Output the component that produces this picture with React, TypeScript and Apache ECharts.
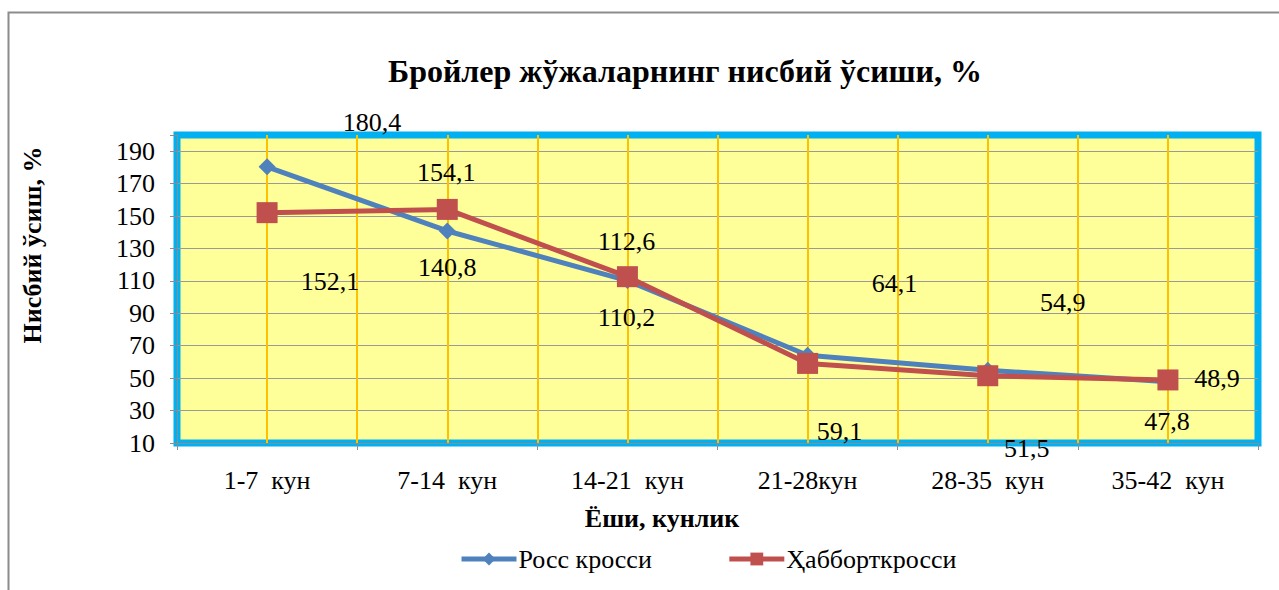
import React, { useEffect, useRef } from "react";
import * as echarts from "echarts";

const titleText = "Бройлер жўжаларнинг нисбий ўсиши, %";
const yAxisTitle = "Нисбий ўсиш, %";
const xAxisTitle = "Ёши, кунлик";
const categories = ["1-7  кун", "7-14  кун", "14-21  кун", "21-28кун", "28-35  кун", "35-42  кун"];
const rossName = "Росс кросси";
const hubbardName = "Ҳабборткросси";
const rossValues = [180.4, 140.8, 110.2, 64.1, 54.9, 47.8];
const hubbardValues = [152.1, 154.1, 112.6, 59.1, 51.5, 48.9];
const yMin = 10;
const yMax = 200;
const yStep = 20;

// label offsets (pixels) reproducing the original label placement
const rossLabelOffsets = [[105, -44], [0, 37], [-1, 37], [87, -72], [75, -68], [-1, 40]];
const hubbardLabelOffsets = [[63, 69], [-1, -37], [-1, -35], [32, 68], [39, 73], [49, -1]];

const FONT = "Liberation Serif";
const fmt = (v: number) => String(v).replace(".", ",");

export default function App() {
  const ref = useRef<HTMLDivElement>(null);
  useEffect(() => {
    if (!ref.current) return;
    const chart = echarts.init(ref.current, null, { renderer: "svg" });
    const labelStyle = { fontFamily: FONT, fontSize: 26, color: "#000" };
    const mk = (vals: number[], offs: number[][]) =>
      vals.map((v, i) => ({
        value: v,
        label: { show: true, position: "inside", offset: offs[i], formatter: () => fmt(v), ...labelStyle },
      }));
    chart.setOption({
      animation: false,
      backgroundColor: "#fff",
      graphic: [
        { type: "rect", z: -10, shape: { x: 8.5, y: 12.5, width: 1400, height: 800 }, style: { fill: "none", stroke: "#8c8c8c", lineWidth: 2 } },
        { type: "text", x: 685, y: 71, style: { text: titleText, fontFamily: FONT, fontWeight: "bold", fontSize: 32, fill: "#000", textAlign: "center", textVerticalAlign: "middle" } },
        { type: "text", x: 32, y: 245, rotation: Math.PI / 2, style: { text: yAxisTitle, fontFamily: FONT, fontWeight: "bold", fontSize: 26, fill: "#000", textAlign: "center", textVerticalAlign: "middle" } },
        { type: "text", x: 662, y: 518, style: { text: xAxisTitle, fontFamily: FONT, fontWeight: "bold", fontSize: 26, fill: "#000", textAlign: "center", textVerticalAlign: "middle" } },
      ],
      grid: {
        left: 177, right: 21, top: 135, bottom: 147,
        show: true, backgroundColor: "#FFFF99", borderColor: "#00B0F0", borderWidth: 7,
      },
      legend: {
        left: 454, top: 541,
        itemWidth: 55, itemHeight: 16, itemGap: 75,
        lineStyle: { width: 5 },
        textStyle: { fontFamily: FONT, fontSize: 26, color: "#000", padding: [0, 0, 0, -3] },
        data: [rossName, hubbardName],
      },
      xAxis: [
        {
          type: "category", data: categories, boundaryGap: true,
          axisLine: { show: true, lineStyle: { color: "#8c8c8c", width: 1 } },
          axisTick: { show: true, length: 7, lineStyle: { color: "#8c8c8c" } },
          axisLabel: { fontFamily: FONT, fontSize: 26, color: "#000", margin: 24, interval: 0 },
          splitLine: { show: false },
        },
        {
          type: "value", min: 0, max: 12, interval: 1, position: "top", z: 1,
          axisLine: { show: false }, axisTick: { show: false }, axisLabel: { show: false },
          splitLine: { show: true, showMinLine: false, showMaxLine: false, lineStyle: { color: "#FFC000", width: 2 } },
        },
      ],
      yAxis: {
        type: "value", min: yMin, max: yMax, interval: yStep,
        axisLine: { show: true, lineStyle: { color: "#8c8c8c", width: 1 } },
        axisTick: { show: true, length: 7, lineStyle: { color: "#8c8c8c" } },
        axisLabel: { fontFamily: FONT, fontSize: 26, color: "#000", margin: 22, formatter: (v: number) => (v === yMax ? "" : String(v)) },
        splitLine: { show: true, showMinLine: false, showMaxLine: false, lineStyle: { color: "#9a9a9a", width: 1 } },
      },
      series: [
        {
          name: rossName, type: "line", xAxisIndex: 0, data: mk(rossValues, rossLabelOffsets),
          symbol: "diamond", symbolSize: 17,
          itemStyle: { color: "#4F81BD" }, lineStyle: { color: "#4F81BD", width: 5 }, z: 3,
        },
        {
          name: hubbardName, type: "line", xAxisIndex: 0, data: mk(hubbardValues, hubbardLabelOffsets),
          symbol: "rect", symbolSize: 21,
          itemStyle: { color: "#C0504D" }, lineStyle: { color: "#C0504D", width: 5 }, z: 4,
        },
      ],
    });
    return () => chart.dispose();
  }, []);
  return <div ref={ref} style={{ position: "fixed", left: 0, top: 0, width: 1279, height: 590 }} />;
}
